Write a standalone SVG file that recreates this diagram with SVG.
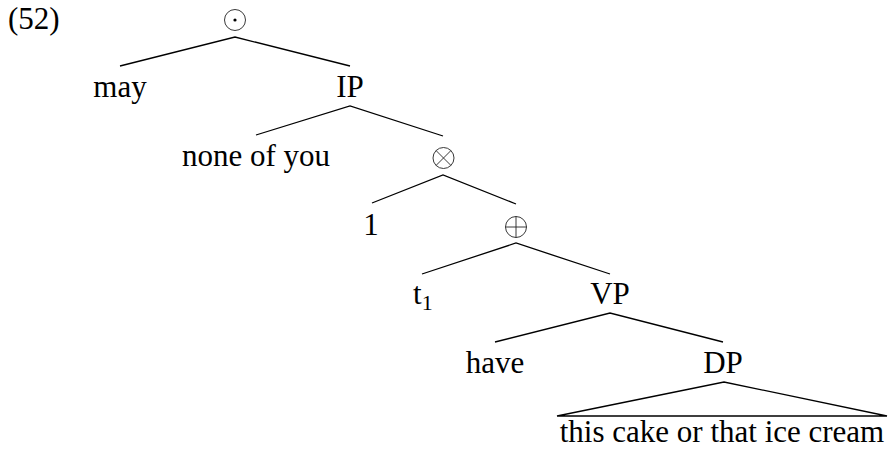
<svg xmlns="http://www.w3.org/2000/svg" width="890" height="449" viewBox="0 0 890 449">
<style>
text{font-family:"Liberation Serif","Tinos","DejaVu Serif",serif;font-size:31px;fill:#000;text-anchor:middle}
.e{stroke:#000;stroke-width:1.3;fill:none}
.op{stroke:#222;stroke-width:0.9;fill:none}
</style>
<rect width="890" height="449" fill="#fff"/>
<text x="8" y="29" style="text-anchor:start">(52)</text>
<g id="connectors">
<path class="e" d="M120,66 L235,37 L350,66"/>
<path class="e" d="M256,135 L350,106 L443,136"/>
<path class="e" d="M372,203 L443,175 L516,204"/>
<path class="e" d="M422,274 L516,243 L610,274"/>
<path class="e" d="M495,342 L610,313 L723,342"/>
<path class="e" d="M557,416 L724,382 L887,416 Z"/>
</g>
<g id="n-odot"><circle class="op" cx="235" cy="20" r="10.5"/><circle cx="235" cy="20" r="1.6" fill="#000"/></g>
<g id="n-may"><text x="120" y="97">may</text></g>
<g id="n-ip"><text x="350" y="97">IP</text></g>
<g id="n-none"><text x="256" y="166">none of you</text></g>
<g id="n-otimes"><circle class="op" cx="443.5" cy="158" r="10.5"/><path class="op" d="M436.1,150.6 L450.9,165.4 M450.9,150.6 L436.1,165.4"/></g>
<g id="n-1"><text x="371" y="235">1</text></g>
<g id="n-oplus"><circle class="op" cx="516" cy="227" r="10.5"/><path class="op" d="M505.5,227 H526.5 M516,216.5 V237.5"/></g>
<g id="n-t1"><text x="413" y="304" style="text-anchor:start">t<tspan font-size="22" dy="6">1</tspan></text></g>
<g id="n-vp"><text x="610" y="304">VP</text></g>
<g id="n-have"><text x="495" y="373">have</text></g>
<g id="n-dp"><text x="723" y="373">DP</text></g>
<g id="n-leaf"><text x="722" y="442">this cake or that ice cream</text></g>
</svg>
